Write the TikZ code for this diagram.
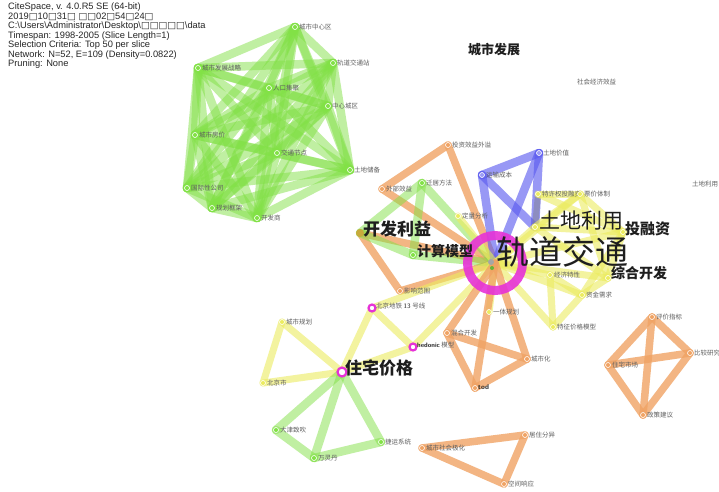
\documentclass[tikz,border=0pt]{standalone}
\usepackage{fontspec}
\setmainfont{Liberation Sans}
\newfontfamily\cjk{Noto Sans CJK SC}
\newfontfamily\dv{DejaVu Sans}
\pgfdeclarelayer{bg}
\pgfsetlayers{bg,main}
\definecolor{gcol}{RGB}{130,225,70}
\definecolor{ocol}{RGB}{240,163,100}
\definecolor{bcol}{RGB}{90,90,240}
\definecolor{ycol}{RGB}{236,236,95}
\definecolor{mcol}{RGB}{230,50,215}
\definecolor{labgray}{RGB}{95,95,95}
\definecolor{dark}{RGB}{30,30,30}
\definecolor{olive}{RGB}{200,170,60}
\tikzset{
  gE/.style={draw=gcol, line width=8.5pt, opacity=0.5, line cap=round},
  oE/.style={draw=ocol, line width=7.5pt, opacity=0.8, line cap=round},
  bE/.style={draw=bcol, line width=8.5pt, opacity=0.62, line cap=round},
  yE/.style={draw=ycol, line width=7pt, opacity=0.6, line cap=round},
  grE/.style={draw=gray, line width=6pt, opacity=0.45, line cap=round},
  dot/.style={circle, inner sep=0pt, minimum size=5pt, fill=#1, draw=white, line width=0.6pt},
  mdot/.style={circle, inner sep=0pt, minimum size=7pt, draw=mcol, line width=2.2pt, fill=white},
  lab/.style={font=\cjk\fontsize{6.5}{7}\selectfont, text=labgray, inner sep=1pt},
  blab/.style={font=\cjk\bfseries\fontsize{#1}{#1}\selectfont, text=dark, inner sep=0pt, anchor=west},
  hdr/.style={font=\fontsize{9.3}{9.5}\selectfont, text=black!85, anchor=north west, align=left, inner sep=0pt},
}
\begin{document}
\begin{tikzpicture}[x=1pt,y=-1pt]
\useasboundingbox (0,0) rectangle (719,491);

% header
\node[hdr] (hdr) at (8,3) {CiteSpace, v. 4.0.R5 SE (64-bit)\\
2019{\dv □}10{\dv □}31{\dv □} {\dv □□}02{\dv □}54{\dv □}24{\dv □}\\
C:\textbackslash Users\textbackslash Administrator\textbackslash Desktop\textbackslash{\dv □□□□□}\textbackslash data\\
Timespan: 1998-2005 (Slice Length=1)\\
Selection Criteria: Top 50 per slice\\
Network: N=52, E=109 (Density=0.0822)\\
Pruning: None};

% green cluster
\node[dot=gcol, label={[lab]right:城市中心区}] (g1) at (295,27) {};
\node[dot=gcol, label={[lab]right:轨道交通站}] (g2) at (333,63) {};
\node[dot=gcol, label={[lab]right:城市发展战略}] (g3) at (198,68) {};
\node[dot=gcol, label={[lab]right:人口集聚}] (g4) at (269,88) {};
\node[dot=gcol, label={[lab]right:中心城区}] (g5) at (328,106) {};
\node[dot=gcol, label={[lab]right:城市房价}] (g6) at (195,135) {};
\node[dot=gcol, label={[lab]right:交通节点}] (g7) at (277,153) {};
\node[dot=gcol, label={[lab]right:土地储备}] (g8) at (350,170) {};
\node[dot=gcol, label={[lab]right:国际性公司}] (g9) at (187,188) {};
\node[dot=gcol, label={[lab]right:规划框架}] (g10) at (212,208) {};
\node[dot=gcol, label={[lab]right:开发商}] (g11) at (257,218) {};

% loose labels
\node[blab=13] (csfz) at (468,50) {城市发展};
\node[lab, anchor=west] (shjj) at (576,82) {社会经济效益};
\node[dot=white, label={[lab]right:土地利用}] (tdly2) at (688,184) {};

% upper middle
\node[dot=ocol, label={[lab]right:投资效益外溢}] (tz) at (448,145) {};
\node[dot=ocol, label={[lab]right:外部效益}] (wb) at (382,189) {};
\node[dot=gcol, label={[lab]right:迁居方法}] (qj) at (422,183) {};
\node[dot=ycol, label={[lab]right:定量分析}] (dl) at (458,216) {};
\node[dot=bcol!60, label={[lab]right:运输成本}] (ys) at (482,175) {};
\node[dot=bcol!60, label={[lab]right:土地价值}] (tj) at (539,153) {};
\node[dot=ycol, label={[lab]right:特许权投融资}] (tx) at (538,194) {};
\node[dot=ycol, label={[lab]right:票价体制}] (pj) at (580,194) {};

% left middle
\node[circle, inner sep=0pt, minimum size=8pt, fill=olive] (kf) at (360,233) {};
\node[dot=gcol] (js) at (413,255) {};
\node[dot=ocol, label={[lab]right:影响范围}] (yx) at (400,291) {};
\node[mdot] (bj13) at (372,308) {};
\node[lab, anchor=west] at (375,306) {北京地铁 {\sffamily\bfseries 13} 号线};
\node[mdot] (hed) at (413,347) {};
\node[lab, anchor=west] at (416,345) {{\sffamily\bfseries\color{dark}hedonic} 模型};
\node[dot=ycol, label={[lab]right:城市规划}] (cg) at (282,322) {};
\node[mdot, minimum size=9pt] (zz) at (342,372) {};
\node[dot=ycol, label={[lab]right:北京市}] (bjs) at (263,383) {};

% right middle
\node[dot=ycol] (ty) at (535,227) {};
\node[dot=ycol] (trz) at (623,232) {};
\node[dot=ycol] (zh) at (608,278) {};
\node[dot=ycol, label={[lab]right:经济特性}] (jj) at (550,275) {};
\node[dot=ycol, label={[lab]right:资金需求}] (zj) at (582,295) {};
\node[dot=ycol, label={[lab]right:特征价格模型}] (tz2) at (553,327) {};
\node[dot=ycol, label={[lab]right:一体规划}] (yt) at (489,312) {};

% lower orange
\node[dot=ocol, label={[lab]right:混合开发}] (hh) at (447,333) {};
\node[dot=ocol, label={[lab]right:城市化}] (csh) at (527,359) {};
\node[dot=ocol] (tod) at (475,388) {};
\node[font=\sffamily\bfseries\fontsize{7}{7}\selectfont, text=dark, anchor=west, inner sep=1pt] at (477,387) {tod};

% lower green
\node[dot=gcol, label={[lab]right:大津致吹}] (dz) at (276,430) {};
\node[dot=gcol, label={[lab]right:万灵丹}] (wl) at (314,458) {};
\node[dot=gcol, label={[lab]right:捷运系统}] (jy) at (381,442) {};

% bottom orange
\node[dot=ocol, label={[lab]right:城市社会极化}] (sh) at (422,448) {};
\node[dot=ocol, label={[lab]right:居住分异}] (jz) at (525,435) {};
\node[dot=ocol, label={[lab]right:空间响应}] (kj) at (504,484) {};

% right orange
\node[dot=ocol, label={[lab]right:评价指标}] (pz) at (652,317) {};
\node[dot=ocol, label={[lab]right:比较研究}] (bjy) at (690,353) {};
\node[dot=ocol, label={[lab]right:住宅市场}] (zs) at (608,365) {};
\node[dot=ocol, label={[lab]right:政策建议}] (zc) at (643,415) {};

% centre
\node[circle, minimum size=55pt, inner sep=0pt, draw=mcol, line width=9pt, opacity=0.9] (C) at (495,263) {};
\node[circle, inner sep=0pt, minimum size=6pt, fill=gray!70] (Cg) at (491,262) {};
\node[circle, inner sep=0pt, minimum size=4pt, fill=gcol!80!black] (Cs) at (492,268) {};

% big labels
\node[blab=33, font=\cjk\fontsize{33}{33}\selectfont] (lC) at (496,252) {轨道交通};
\node[blab=21, font=\cjk\fontsize{21}{21}\selectfont] (lty) at (539,221) {土地利用};
\node[blab=15] (ltrz) at (625,229) {投融资};
\node[blab=14] (lzh) at (611,273) {综合开发};
\node[blab=17] (lkf) at (363,229) {开发利益};
\node[blab=14] (ljs) at (417,251) {计算模型};
\node[blab=17] (lzz) at (345,368) {住宅价格};

\begin{pgfonlayer}{bg}
\fill[white] (0,0) rectangle (719,491);
% green cluster: complete graph
\foreach \i [evaluate=\i as \k using int(\i+1)] in {1,...,10} {
  \foreach \j in {\k,...,11} { \draw[gE] (g\i.center) -- (g\j.center); }
}
% orange upper
\draw[oE] (tz.center) -- (wb.center);
\draw[oE] (tz.center) -- (C.center);
\draw[oE] (wb.center) -- (C.center);
\draw[oE] (kf.center) -- (yx.center);
\draw[oE] (kf.center) -- (C.center);
\draw[oE] (yx.center) -- (C.center);
% green middle
\draw[gE] (qj.center) -- (kf.center);
\draw[gE] (qj.center) -- (js.center);
\draw[gE] (qj.center) -- (C.center);
\draw[gE] (kf.center) -- (js.center);
\draw[gE] (js.center) -- (C.center);
% blue
\draw[bE] (ys.center) -- (tj.center);
\draw[bE] (ys.center) -- (C.center);
\draw[bE] (tj.center) -- (C.center);
\draw[bE] (ys.center) -- (ty.center);
\draw[bE] (tj.center) -- (ty.center);
\draw[grE] (tx.center) -- (ty.center);
% yellow right
\foreach \a/\b in {dl/C, C/ty, C/trz, C/zh, C/jj, C/zj, C/tz2, C/yt, C/pj,
  ty/trz, ty/pj, ty/zh, tx/pj, tx/trz, pj/trz, pj/zh, trz/zh, trz/zj, zh/zj,
  jj/zj, zj/tz2, jj/tz2} { \draw[yE] (\a.center) -- (\b.center); }
% yellow left
\foreach \a/\b in {C/bj13, C/hed, bj13/hed, bj13/zz, hed/zz, zz/cg, zz/bjs, cg/bjs}
  { \draw[yE] (\a.center) -- (\b.center); }
% orange lower
\foreach \a/\b in {C/hh, C/tod, C/csh, hh/csh, hh/tod, tod/csh, sh/jz, sh/kj, jz/kj,
  pz/bjy, pz/zs, pz/zc, zs/bjy, zs/zc, bjy/zc} { \draw[oE] (\a.center) -- (\b.center); }
% green lower
\foreach \a/\b in {zz/dz, zz/wl, zz/jy, dz/wl, wl/jy} { \draw[gE] (\a.center) -- (\b.center); }
\end{pgfonlayer}
\end{tikzpicture}
\end{document}
